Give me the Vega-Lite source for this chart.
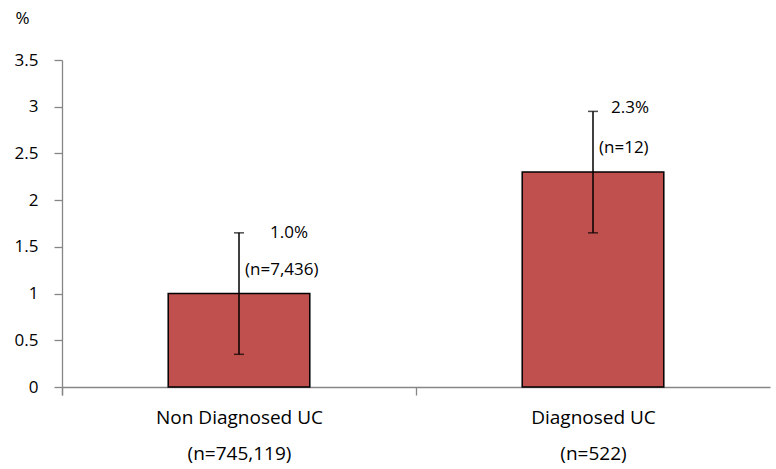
{
  "$schema": "https://vega.github.io/schema/vega-lite/v6.json",
  "width": 708,
  "height": 327,
  "autosize": "none",
  "padding": {"left": 62, "top": 60, "right": 6, "bottom": 82},
  "background": "white",
  "config": {
    "view": {"stroke": null},
    "font": "Open Sans",
    "text": {"font": "Open Sans", "fontSize": 17, "color": "#000000"}
  },
  "data": {
    "values": [
      {"group": "Non Diagnosed UC|(n=745,119)", "value": 1.0, "lo": 0.35, "hi": 1.65, "pct": "1.0%", "n": "(n=7,436)"},
      {"group": "Diagnosed UC|(n=522)", "value": 2.3, "lo": 1.65, "hi": 2.95, "pct": "2.3%", "n": "(n=12)"}
    ]
  },
  "encoding": {
    "x": {
      "field": "group",
      "type": "nominal",
      "sort": null,
      "scale": {"paddingInner": 0.6, "paddingOuter": 0.3},
      "axis": {
        "title": null,
        "labelAngle": 0,
        "labelExpr": "datum.value ? split(datum.value, '|') : ''",
        "labelFont": "Open Sans",
        "labelFontSize": 19,
        "labelColor": "#000000",
        "labelLineHeight": 36,
        "labelPadding": 22,
        "labelBaseline": "middle",
        "labelOffset": 106,
        "ticks": true,
        "bandPosition": 0,
        "tickExtra": true,
        "tickOffset": -106,
        "tickSize": 8,
        "tickWidth": 1.3,
        "tickColor": "#868686",
        "domainColor": "#868686",
        "domainWidth": 1.3
      }
    }
  },
  "layer": [
    {
      "mark": {"type": "bar", "color": "#C0504D", "stroke": "#000000", "strokeWidth": 1.5},
      "encoding": {
        "y": {
          "field": "value",
          "type": "quantitative",
          "scale": {"domain": [0, 3.5], "nice": false},
          "axis": {
            "values": [0, 0.5, 1, 1.5, 2, 2.5, 3, 3.5],
            "format": "~g",
            "grid": false,
            "title": "%",
            "titleAngle": 0,
            "titleX": -40,
            "titleY": -42,
            "titleAlign": "center",
            "titleBaseline": "middle",
            "titleFont": "Open Sans",
            "titleFontWeight": "normal",
            "titleFontSize": 17,
            "titleColor": "#000000",
            "labelFont": "Open Sans",
            "labelFontSize": 17,
            "labelColor": "#000000",
            "labelPadding": 16,
            "tickSize": 8,
            "tickWidth": 1.3,
            "tickColor": "#868686",
            "domainColor": "#868686",
            "domainWidth": 1.3
          }
        }
      }
    },
    {
      "mark": {"type": "rule", "color": "#000000", "strokeWidth": 1.5},
      "encoding": {
        "y": {"field": "lo", "type": "quantitative"},
        "y2": {"field": "hi"}
      }
    },
    {
      "mark": {"type": "tick", "color": "#000000", "thickness": 1.5, "size": 10, "orient": "horizontal"},
      "encoding": {"y": {"field": "lo", "type": "quantitative"}}
    },
    {
      "mark": {"type": "tick", "color": "#000000", "thickness": 1.5, "size": 10, "orient": "horizontal"},
      "encoding": {"y": {"field": "hi", "type": "quantitative"}}
    },
    {
      "mark": {"type": "text", "align": "left", "baseline": "middle", "dx": 6, "dy": 37},
      "encoding": {
        "y": {"field": "hi", "type": "quantitative"},
        "text": {"field": "n"}
      }
    },
    {
      "transform": [{"filter": "datum.pct == '1.0%'"}],
      "mark": {"type": "text", "align": "center", "baseline": "middle", "dx": 50, "dy": 0},
      "encoding": {
        "y": {"field": "hi", "type": "quantitative"},
        "text": {"field": "pct"}
      }
    },
    {
      "transform": [{"filter": "datum.pct == '2.3%'"}],
      "mark": {"type": "text", "align": "center", "baseline": "middle", "dx": 37, "dy": -3},
      "encoding": {
        "y": {"field": "hi", "type": "quantitative"},
        "text": {"field": "pct"}
      }
    }
  ]
}
